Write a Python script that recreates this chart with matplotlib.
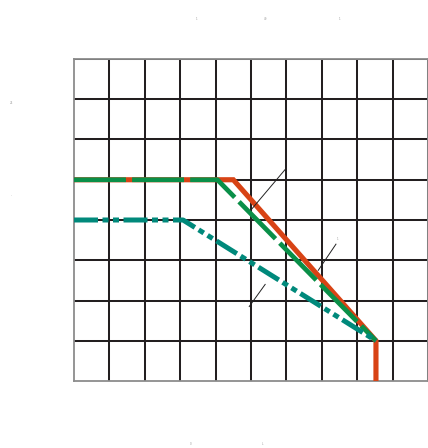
import matplotlib
matplotlib.use("Agg")
import matplotlib.pyplot as plt
import numpy as np

# curve data (grid units: 10 columns x 8 rows)
orange_x = [0.0, 4.5, 8.53, 8.53]
orange_y = [5.0, 5.0, 1.0, 0.0]
green_x = [0.0, 4.05, 8.53]
green_y = [5.0, 5.0, 1.0]
teal_x = [0.0, 3.08, 8.53]
teal_y = [4.0, 4.0, 1.0]

x_ticks = np.arange(0, 11, 1)
y_ticks = np.arange(0, 9, 1)

# leader lines for the (tiny) callouts
leaders = [((5.96, 5.25), (5.0, 4.25)),
           ((7.4, 3.4), (6.9, 2.75)),
           ((5.4, 2.4), (4.95, 1.85))]

fig = plt.figure(figsize=(4.28, 4.48), dpi=100)
ax = fig.add_axes([74 / 428, 67 / 448, 1 - 74 / 428, 322 / 448])
ax.set_xlim(0, 10)
ax.set_ylim(0, 8)

for xv in x_ticks[1:]:
    ax.axvline(xv, color="#231f20", lw=1.45, zorder=1)
for yv in y_ticks[1:]:
    ax.axhline(yv, color="#231f20", lw=1.45, zorder=1)

ax.plot(orange_x, orange_y, color="#d84315", lw=3.7, solid_capstyle="butt",
        solid_joinstyle="miter", zorder=3)
ax.plot(green_x, green_y, color="#0a8f48", lw=3.4, dashes=(11.0, 1.3),
        dash_capstyle="butt", zorder=4)
ax.plot(teal_x, teal_y, color="#00897b", lw=3.6,
        dashes=(4.8, 0.9, 1.2, 0.9, 1.2, 0.9), dash_capstyle="butt", zorder=4)

for (x0, y0), (x1, y1) in leaders:
    ax.plot([x0, x1], [y0, y1], color="#222222", lw=0.7, zorder=5)

for s in ax.spines.values():
    s.set_color("#8c8c8c")
    s.set_linewidth(1.3)
ax.set_xticks([])
ax.set_yticks([])

# very small labels as in the reference
tiny = dict(fontsize=2, color="#999999", ha="center", va="center")
fig.text(197 / 428, 1 - 19 / 448, "1", **tiny)
fig.text(266 / 428, 1 - 19 / 448, "40", **tiny)
fig.text(340 / 428, 1 - 19 / 448, "1", **tiny)
fig.text(11 / 428, 1 - 103 / 448, "25", **tiny)
fig.text(12 / 428, 1 - 195 / 448, "--", **tiny)
fig.text(191 / 428, 1 - 444 / 448, "0", **tiny)
fig.text(263 / 428, 1 - 444 / 448, "L", **tiny)
fig.text(338 / 428, 1 - 239 / 448, "1", **tiny)

fig.savefig("out.png", dpi=100)
